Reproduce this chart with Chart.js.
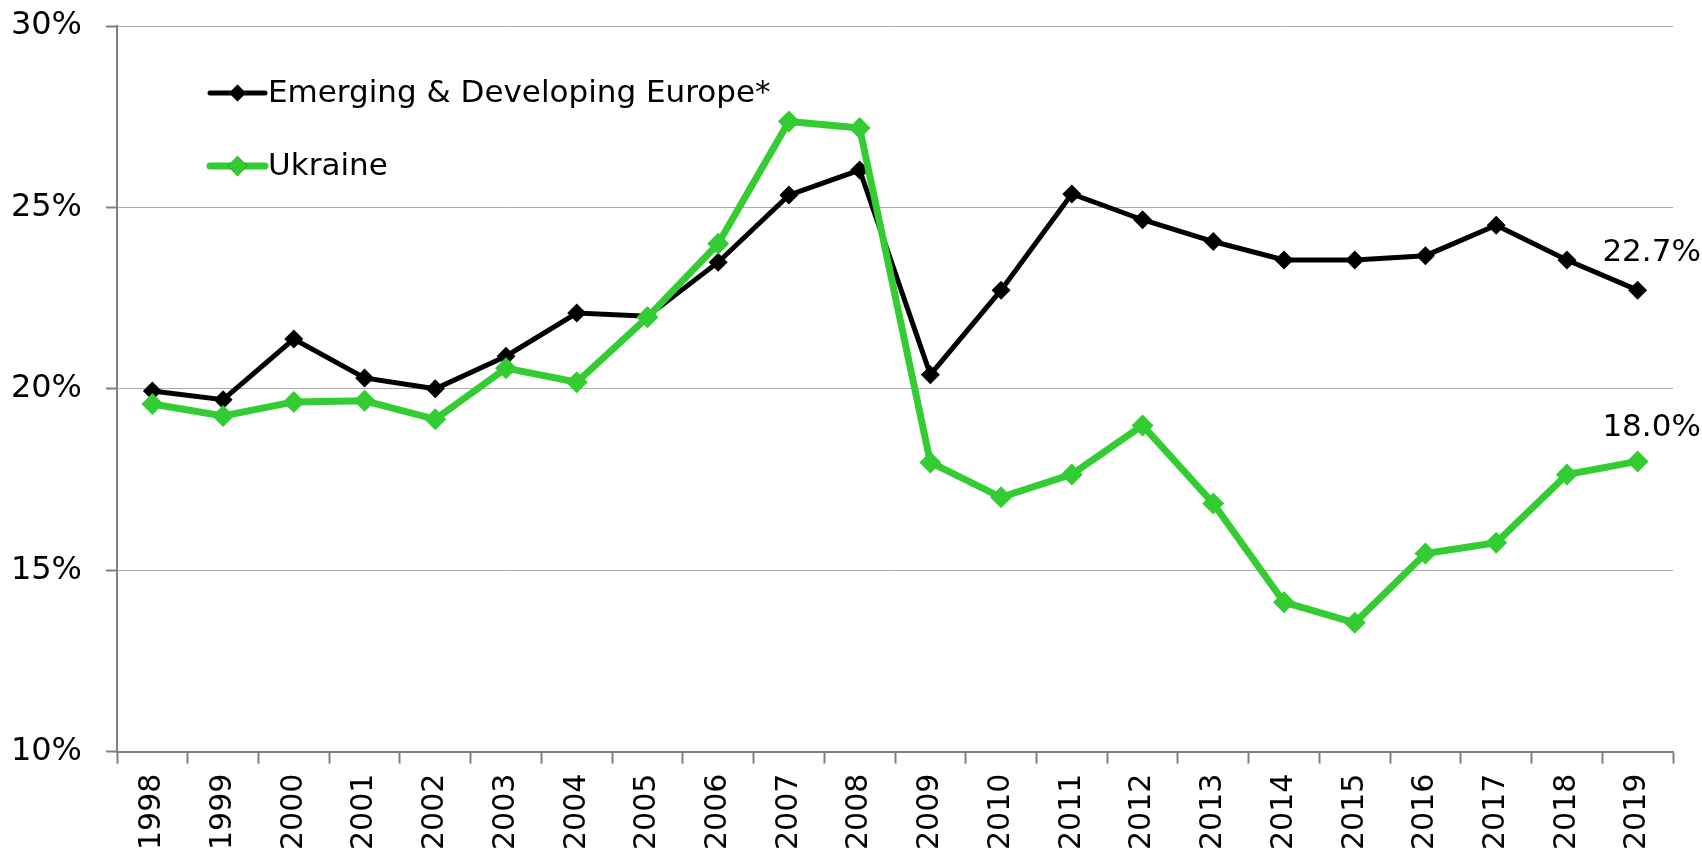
<!DOCTYPE html>
<html>
<head>
<meta charset="utf-8">
<script src="https://cdn.jsdelivr.net/npm/chart.js@4/dist/chart.umd.min.js"></script>
<style>
    html, body { margin: 0; padding: 0; background: #fff; }
</style>
</head>
<body>
<canvas id="myChart" width="1702" height="853"></canvas>
<script>
    var years = ['1998', '1999', '2000', '2001', '2002', '2003', '2004', '2005', '2006', '2007', '2008',
                 '2009', '2010', '2011', '2012', '2013', '2014', '2015', '2016', '2017', '2018', '2019'];

    var europeLabel = 'Emerging & Developing Europe*';
    var europeValues = [19.94, 19.70, 21.37, 20.30, 20.00, 20.90, 22.09, 22.00, 23.49, 25.34, 26.03,
                        20.39, 22.72, 25.37, 24.66, 24.06, 23.55, 23.55, 23.67, 24.51, 23.55, 22.72];

    var ukraineLabel = 'Ukraine';
    var ukraineValues = [19.58, 19.25, 19.64, 19.67, 19.16, 20.57, 20.18, 21.97, 24.00, 27.37, 27.19,
                         17.97, 17.01, 17.64, 18.99, 16.84, 14.12, 13.55, 15.46, 15.76, 17.64, 18.00];

    var yMin = 10;
    var yMax = 30;
    var yStep = 5;

    Chart.defaults.font.family = "'DejaVu Sans', Verdana, sans-serif";
    Chart.defaults.color = '#000';

    // legend drawn inside the plot, line + diamond + text
    var innerLegend = {
        id: 'innerLegend',
        afterDraw: function (chart) {
            var ctx = chart.ctx;
            var area = chart.chartArea;
            ctx.save();
            chart.data.datasets.forEach(function (ds, i) {
                var y = area.top + 67 + i * 73;
                var x0 = area.left + 93;
                var x1 = area.left + 148;
                ctx.strokeStyle = ds.borderColor;
                ctx.lineWidth = ds.borderWidth;
                ctx.lineCap = 'round';
                ctx.beginPath();
                ctx.moveTo(x0, y);
                ctx.lineTo(x1, y);
                ctx.stroke();
                Chart.helpers.drawPoint(ctx, { pointStyle: 'rectRot', radius: ds.pointRadius - 1, borderWidth: 0 }, (x0 + x1) / 2, y);
                ctx.fillStyle = ds.borderColor;
                ctx.fill();
                ctx.fillStyle = '#000';
                ctx.font = "31px 'DejaVu Sans'";
                ctx.textAlign = 'left';
                ctx.textBaseline = 'middle';
                ctx.fillText(ds.label, x1 + 3, y + 1);
            });
            ctx.restore();
        }
    };

    // value label over the last point of each line
    var endLabels = {
        id: 'endLabels',
        afterDatasetsDraw: function (chart) {
            var ctx = chart.ctx;
            var lifts = [37, 33];
            ctx.save();
            ctx.font = "31px 'DejaVu Sans'";
            ctx.fillStyle = '#000';
            ctx.textAlign = 'center';
            ctx.textBaseline = 'middle';
            chart.data.datasets.forEach(function (ds, i) {
                var meta = chart.getDatasetMeta(i);
                var last = meta.data[meta.data.length - 1];
                var v = ds.data[ds.data.length - 1];
                ctx.fillText(v.toFixed(1) + '%', last.x + 14, last.y - lifts[i]);
            });
            ctx.restore();
        }
    };

    var ctx = document.getElementById('myChart').getContext('2d');
    var chart = new Chart(ctx, {
        type: 'line',
        data: {
            labels: years,
            datasets: [{
                label: europeLabel,
                data: europeValues,
                borderColor: '#000000',
                backgroundColor: '#000000',
                borderWidth: 5,
                pointStyle: 'rectRot',
                pointRadius: 9.5,
                pointBorderWidth: 0,
                pointBackgroundColor: '#000000',
                tension: 0,
                order: 1
            }, {
                label: ukraineLabel,
                data: ukraineValues,
                borderColor: '#33CC33',
                backgroundColor: '#33CC33',
                borderWidth: 7,
                pointStyle: 'rectRot',
                pointRadius: 11,
                pointBorderWidth: 0,
                pointBackgroundColor: '#33CC33',
                tension: 0,
                order: 0
            }]
        },
        options: {
            responsive: false,
            animation: false,
            clip: false,
            layout: {
                autoPadding: false,
                padding: { left: 0, right: 29, top: 26, bottom: -7 }
            },
            plugins: {
                legend: { display: false },
                tooltip: { enabled: false }
            },
            scales: {
                x: {
                    offset: true,
                    grid: {
                        offset: true,
                        drawOnChartArea: false,
                        tickLength: 12,
                        tickColor: '#808080',
                        tickWidth: 2
                    },
                    border: { color: '#808080', width: 2 },
                    ticks: {
                        autoSkip: false,
                        minRotation: 90,
                        maxRotation: 90,
                        padding: 10,
                        font: { size: 30 }
                    }
                },
                y: {
                    min: yMin,
                    max: yMax,
                    afterFit: function (scale) {
                        scale.width = 117;
                        scale.paddingTop = 0;
                    },
                    grid: {
                        color: '#aaaaaa',
                        lineWidth: 1,
                        borderDash: [1, 2],
                        tickBorderDash: [],
                        tickLength: 11,
                        tickColor: '#808080',
                        tickWidth: 2
                    },
                    border: { color: '#808080', width: 2 },
                    ticks: {
                        stepSize: yStep,
                        padding: 24,
                        font: { size: 32 },
                        callback: function (v) { return v + '%'; }
                    }
                }
            }
        },
        plugins: [innerLegend, endLabels]
    });
</script>
</body>
</html>
